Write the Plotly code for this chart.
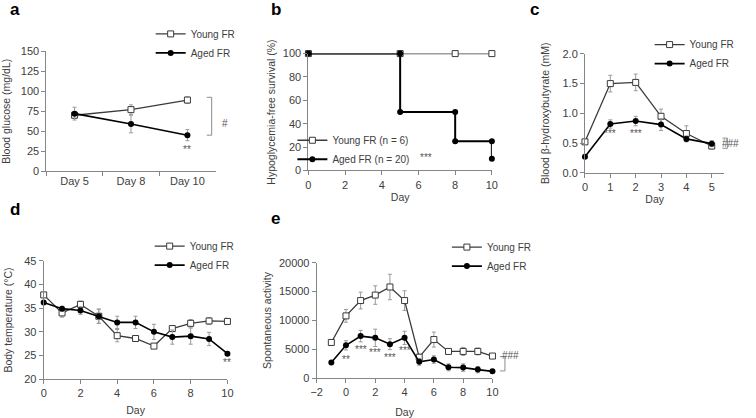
import plotly.graph_objects as go

W, H = 756, 418


def px_x(p):
    return p / W


def px_y(p):
    return 1 - p / H


# ---------------- data ----------------
# Panel a: blood glucose
a_days = ["Day 5", "Day 8", "Day 10"]
a_young = [70, 77, 89]
a_young_err = [4, 6, 4]
a_aged = [72, 59, 45]
a_aged_err = [8, 11, 7]

# Panel b: hypoglycemia-free survival
b_young_day = [0, 5, 8, 10]
b_young_surv = [100, 100, 100, 100]
b_aged_day = [0, 5, 5, 8, 8, 10, 10]
b_aged_surv = [100, 100, 50, 50, 25, 25, 10]

# Panel c: blood beta-hydroxybutyrate
c_days = [0, 1, 2, 3, 4, 5]
c_young = [0.52, 1.50, 1.52, 0.95, 0.66, 0.45]
c_young_err = [0.02, 0.14, 0.14, 0.12, 0.13, 0.05]
c_aged = [0.27, 0.82, 0.87, 0.81, 0.57, 0.49]
c_aged_err = [0.01, 0.07, 0.08, 0.10, 0.05, 0.05]

# Panel d: body temperature
d_days = list(range(0, 11))
d_young = [37.8, 34.0, 35.8, 33.3, 29.2, 28.6, 27.0, 30.7, 31.8, 32.3, 32.2]
d_young_err = [0.3, 0.9, 0.7, 1.5, 1.3, 0.4, 0.5, 0.5, 0.8, 0.7, 0.7]
d_aged = [36.2, 34.9, 34.5, 33.3, 32.0, 32.0, 30.0, 28.9, 29.1, 28.5, 25.4]
d_aged_err = [0.3, 0.5, 0.8, 1.5, 1.3, 1.3, 1.6, 1.5, 1.7, 1.4, 0.3]

# Panel e: spontaneous activity
e_days = list(range(-1, 11))
e_young = [6200, 10800, 13450, 14400, 15800, 13450, 3650, 6700, 4650, 4650, 4650, 3850]
e_young_err = [400, 1100, 1450, 1600, 2200, 1700, 500, 1300, 300, 700, 600, 300]
e_aged = [2750, 5700, 7300, 7000, 5900, 7000, 2850, 3250, 1900, 1850, 1500, 1200]
e_aged_err = [200, 800, 1000, 1500, 950, 1150, 600, 650, 600, 650, 550, 300]

# ---------------- styles ----------------
FONT = "Liberation Sans, Arial, sans-serif"
TXT = "#404040"
AXC = "#868686"
ERRC = "#9a9a9a"
YOUNG_LINE = dict(color="#3a3a3a", width=1.3)
AGED_LINE = dict(color="#000000", width=1.6)
YOUNG_MARK = dict(symbol="square", size=6, color="white", line=dict(color="#3a3a3a", width=1))
AGED_MARK = dict(symbol="circle", size=6, color="black", line=dict(color="black", width=0))


def err(arr):
    return dict(type="data", array=arr, color=ERRC, thickness=1, width=2)


fig = go.Figure()

# a
fig.add_trace(go.Scatter(x=a_days, y=a_young, error_y=err(a_young_err), mode="lines+markers",
                         name="Young FR", line=YOUNG_LINE, marker=YOUNG_MARK,
                         xaxis="x", yaxis="y", legend="legend", cliponaxis=False))
fig.add_trace(go.Scatter(x=a_days, y=a_aged, error_y=err(a_aged_err), mode="lines+markers",
                         name="Aged FR", line=AGED_LINE, marker=AGED_MARK,
                         xaxis="x", yaxis="y", legend="legend", cliponaxis=False))
# b
fig.add_trace(go.Scatter(x=b_young_day, y=b_young_surv, mode="lines+markers",
                         name="Young FR (n = 6)", line=YOUNG_LINE, marker=YOUNG_MARK,
                         xaxis="x2", yaxis="y2", legend="legend2", cliponaxis=False))
fig.add_trace(go.Scatter(x=b_aged_day, y=b_aged_surv, mode="lines+markers",
                         name="Aged FR (n = 20)", line=dict(color="black", width=2), marker=AGED_MARK,
                         xaxis="x2", yaxis="y2", legend="legend2", cliponaxis=False))
# c
fig.add_trace(go.Scatter(x=c_days, y=c_young, error_y=err(c_young_err), mode="lines+markers",
                         name="Young FR", line=YOUNG_LINE, marker=YOUNG_MARK,
                         xaxis="x3", yaxis="y3", legend="legend3", cliponaxis=False))
fig.add_trace(go.Scatter(x=c_days, y=c_aged, error_y=err(c_aged_err), mode="lines+markers",
                         name="Aged FR", line=AGED_LINE, marker=AGED_MARK,
                         xaxis="x3", yaxis="y3", legend="legend3", cliponaxis=False))
# d
fig.add_trace(go.Scatter(x=d_days, y=d_young, error_y=err(d_young_err), mode="lines+markers",
                         name="Young FR", line=YOUNG_LINE, marker=YOUNG_MARK,
                         xaxis="x4", yaxis="y4", legend="legend4", cliponaxis=False))
fig.add_trace(go.Scatter(x=d_days, y=d_aged, error_y=err(d_aged_err), mode="lines+markers",
                         name="Aged FR", line=AGED_LINE, marker=AGED_MARK,
                         xaxis="x4", yaxis="y4", legend="legend4", cliponaxis=False))
# e
fig.add_trace(go.Scatter(x=e_days, y=e_young, error_y=err(e_young_err), mode="lines+markers",
                         name="Young FR", line=YOUNG_LINE, marker=YOUNG_MARK,
                         xaxis="x5", yaxis="y5", legend="legend5", cliponaxis=False))
fig.add_trace(go.Scatter(x=e_days, y=e_aged, error_y=err(e_aged_err), mode="lines+markers",
                         name="Aged FR", line=AGED_LINE, marker=AGED_MARK,
                         xaxis="x5", yaxis="y5", legend="legend5", cliponaxis=False))

axis_common = dict(
    showline=True, linecolor=AXC, linewidth=1, ticks="outside", ticklen=4, tickcolor=AXC,
    showgrid=False, zeroline=False, tickfont=dict(family=FONT, size=11, color=TXT),
    title_font=dict(family=FONT, size=10.5, color=TXT), fixedrange=True,
)


def xa(domain, **kw):
    d = dict(axis_common)
    d.update(domain=[px_x(domain[0]), px_x(domain[1])])
    d.update(kw)
    return d


def ya(domain, **kw):
    d = dict(axis_common)
    d.update(domain=[px_y(domain[1]), px_y(domain[0])])
    d.update(kw)
    return d


legend_common = dict(font=dict(family=FONT, size=10, color=TXT), bgcolor="rgba(0,0,0,0)",
                     itemwidth=30, xanchor="left", yanchor="middle", tracegroupgap=0)


def leg(text_x, center_y):
    d = dict(legend_common)
    d.update(x=px_x(text_x - 44), y=px_y(center_y))
    return d


def bracket(x, y0, y1, arm=5):
    return dict(type="path", xref="paper", yref="paper",
                path=f"M {px_x(x - arm)},{px_y(y0)} L {px_x(x)},{px_y(y0)} L {px_x(x)},{px_y(y1)} L {px_x(x - arm)},{px_y(y1)}",
                line=dict(color="#8c8c8c", width=1))


fig.update_layout(
    width=W, height=H, margin=dict(l=0, r=0, t=0, b=0),
    paper_bgcolor="white", plot_bgcolor="white", showlegend=True,
    font=dict(family=FONT, color=TXT),
    # a
    xaxis=xa((41, 213), anchor="y", type="category", range=[-0.5, 2.5], tickson="boundaries"),
    yaxis=ya((46.7, 170), anchor="x", range=[0, 150], tickvals=[0, 25, 50, 75, 100, 125, 150],
             title=dict(text="Blood glucose (mg/dL)", standoff=7.5)),
    # b
    xaxis2=xa((307.3, 493.7), anchor="y2", range=[0, 10], tickvals=[0, 2, 4, 6, 8, 10],
              title=dict(text="Day", standoff=4)),
    yaxis2=ya((49, 169.3), anchor="x2", range=[0, 100], tickvals=[0, 20, 40, 60, 80, 100],
              title=dict(text="Hypoglycemia-free survival (%)", standoff=5)),
    # c
    xaxis3=xa((588.3, 730), anchor="y3", range=[0, 5.5], tickvals=[0, 1, 2, 3, 4, 5],
              title=dict(text="Day", standoff=1.5)),
    yaxis3=ya((49.3, 171.7), anchor="x3", range=[0, 2], tickvals=[0, 0.5, 1, 1.5, 2], tickformat=".1f",
              title=dict(text="Blood β-hydroxybutyrate (mM)", standoff=10)),
    # d
    xaxis4=xa((38.3, 225), anchor="y4", range=[0, 10], tickvals=[0, 2, 4, 6, 8, 10],
              title=dict(text="Day", standoff=8)),
    yaxis4=ya((262.3, 384.3), anchor="x4", range=[20, 45], tickvals=[20, 25, 30, 35, 40, 45],
              title=dict(text="Body temperature (°C)", standoff=9.5)),
    # e
    xaxis5=xa((315.7, 494.3), anchor="y5", range=[-2, 10], tickvals=[-2, 0, 2, 4, 6, 8, 10],
              title=dict(text="Day", standoff=11)),
    yaxis5=ya((264.3, 383.3), anchor="x5", range=[0, 20000], tickvals=[0, 5000, 10000, 15000, 20000],
              tickformat="d", title=dict(text="Spontaneous activity", standoff=5)),
    legend=leg(191, 38.5),
    legend2=leg(335, 148),
    legend3=leg(698, 49.5),
    legend4=leg(190, 257),
    legend5=leg(492, 258),
    shapes=[
        bracket(209, 94, 133),
        bracket(733, 136, 146.5),
        bracket(507, 361, 375.7),
    ],
)

ann = []
# panel letters
for letter, x, y in [("a", 2, 4), ("b", 267, 4), ("c", 530, 4), ("d", 2, 210), ("e", 267, 219)]:
    ann.append(dict(text=f"<b>{letter}</b>", xref="paper", yref="paper", x=px_x(x), y=px_y(y),
                    xanchor="left", yanchor="middle", showarrow=False,
                    font=dict(family=FONT, size=17, color="black")))

star_font = dict(family=FONT, size=10, color="#555555")
# significance marks
ann += [
    dict(text="#", xref="paper", yref="paper", x=px_x(217), y=px_y(113), showarrow=False, font=star_font),
    dict(text="**", xref="x", yref="paper", x="Day 10", y=px_y(148), showarrow=False, font=star_font),
    dict(text="***", xref="x2", yref="y2", x=6.4, y=11, showarrow=False, font=star_font),
    dict(text="***", xref="x3", yref="y3", x=1, y=0.66, showarrow=False, font=star_font),
    dict(text="***", xref="x3", yref="y3", x=2, y=0.66, showarrow=False, font=star_font),
    dict(text="###", xref="paper", yref="paper", x=px_x(747), y=px_y(141.5), showarrow=False, font=star_font),
    dict(text="**", xref="x4", yref="y4", x=10, y=23.6, showarrow=False, font=star_font),
    dict(text="**", xref="x5", yref="y5", x=0, y=3300, showarrow=False, font=star_font),
    dict(text="***", xref="x5", yref="y5", x=1, y=5000, showarrow=False, font=star_font),
    dict(text="***", xref="x5", yref="y5", x=2, y=4550, showarrow=False, font=star_font),
    dict(text="***", xref="x5", yref="y5", x=3, y=3550, showarrow=False, font=star_font),
    dict(text="***", xref="x5", yref="y5", x=4, y=4850, showarrow=False, font=star_font),
    dict(text="###", xref="paper", yref="paper", x=px_x(523), y=px_y(368), showarrow=False, font=star_font),
]
fig.update_layout(annotations=ann)

# remove the browser's default 8px body margin so the figure sits at the page origin
fig.write_html("out.html", config={"displayModeBar": False},
               post_script="document.body.style.margin='0px';")
